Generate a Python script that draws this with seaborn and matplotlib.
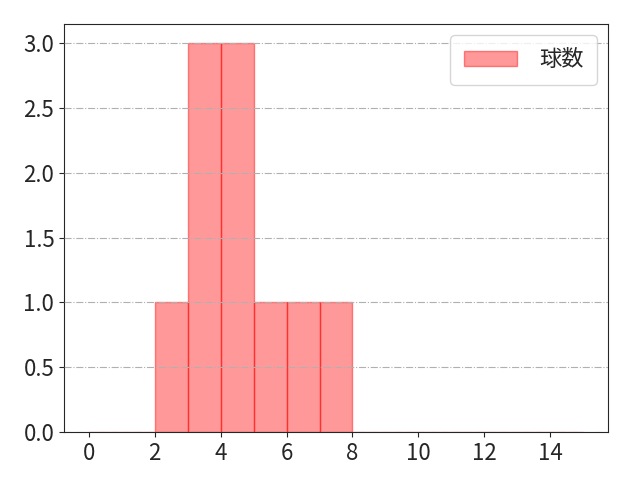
import matplotlib
matplotlib.use("Agg")
import matplotlib.pyplot as plt
import seaborn as sns
import pandas as pd

# pitches per bin (bin starts at 0..14, width 1)
bin_starts = list(range(0, 15))
counts = [0, 0, 1, 3, 3, 1, 1, 1, 0, 0, 0, 0, 0, 0, 0]
label = "球数"

df = pd.DataFrame({"x": bin_starts, "w": counts})

sns.set_style("ticks")
plt.rcParams['font.family'] = ['Noto Sans CJK JP', 'DejaVu Sans']
plt.rcParams['font.size'] = 16

fig, ax = plt.subplots(figsize=(6.4, 4.8), dpi=100)
sns.histplot(data=df, x="x", weights="w", bins=list(range(0, 16)), ax=ax,
             color="#ff0000", alpha=0.4, linewidth=1, label=label)
for p in ax.patches:
    p.set_alpha(None)
    p.set_facecolor((1, 0, 0, 0.4))
    p.set_edgecolor((1, 0, 0, 0.45))
ax.set_xlabel("")
ax.set_ylabel("")
ax.set_xticks(range(0, 16, 2))
ax.grid(axis="y", linestyle="-.", color="#b0b0b0", linewidth=0.8)
ax.set_axisbelow(False)
ax.tick_params(labelsize=16)
ax.legend(loc="upper right", fontsize=16, handlelength=2.4, handletextpad=1.0,
          borderpad=0.6)
fig.subplots_adjust(left=0.1, right=0.95, top=0.95, bottom=0.1)
fig.savefig("out.png")
